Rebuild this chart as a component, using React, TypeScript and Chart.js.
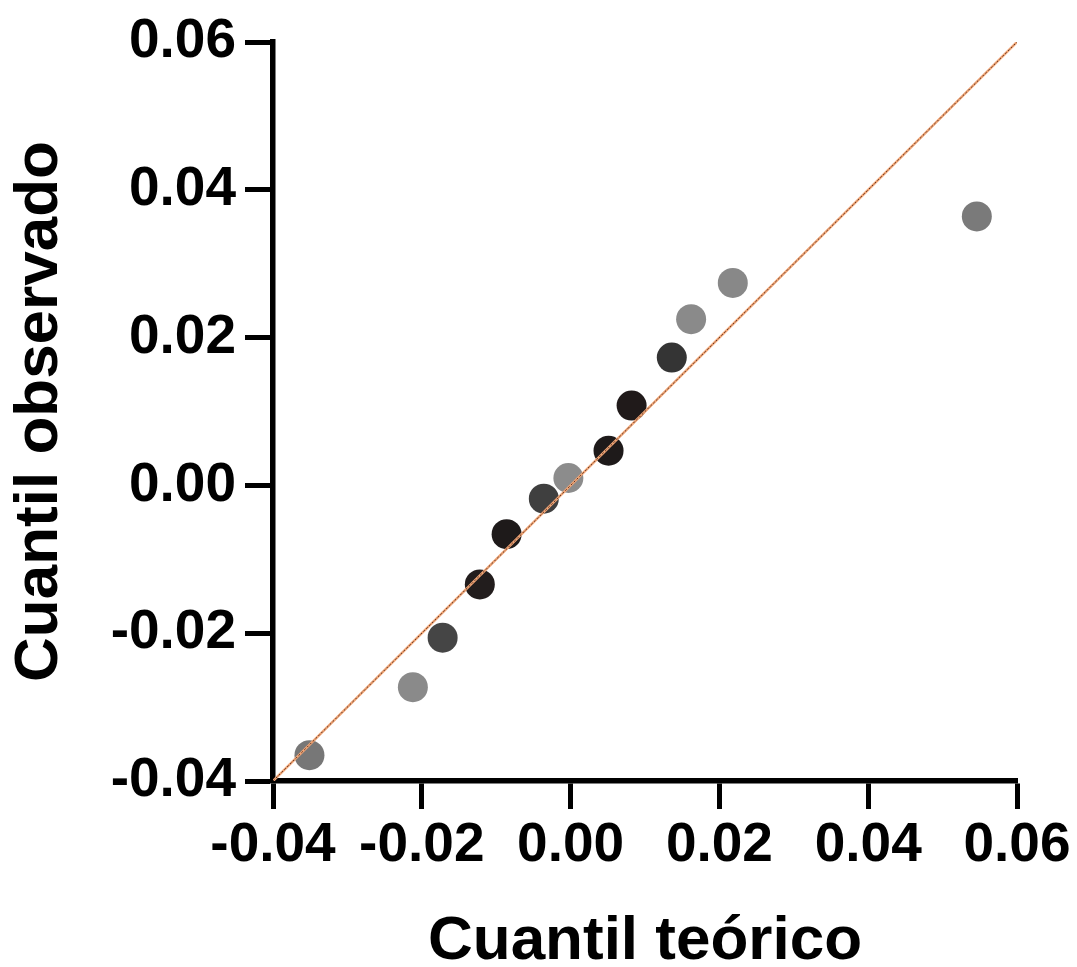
import React, { useEffect, useRef } from "react";
import { Chart, registerables } from "chart.js";

Chart.register(...registerables);

const theoretical = [-0.0351, -0.0212, -0.0172, -0.0122, -0.0086, -0.0036, -0.0003, 0.0051, 0.0082, 0.0136, 0.0162, 0.0218, 0.0546];
const observed = [-0.0365, -0.0273, -0.0206, -0.0134, -0.0066, -0.0018, 0.001, 0.0047, 0.0108, 0.0173, 0.0225, 0.0274, 0.0364];
const pointColors = ["#777777", "#8a8a8a", "#454545", "#221d1d", "#1e1a1a", "#3f3f3f", "#8c8c8c", "#1e1a1a", "#201a1a", "#343434", "#8a8a8a", "#888888", "#7a7a7a"];
const refLineX = [-0.04, 0.06];
const refLineY = [-0.04, 0.06];
const axisMin = -0.04;
const axisMax = 0.06;
const axisStep = 0.02;
const xTitle = "Cuantil teórico";
const yTitle = "Cuantil observado";

const FONT = "'Liberation Sans', Arial, Helvetica, sans-serif";

export default function App() {
  const ref = useRef<HTMLCanvasElement | null>(null);

  useEffect(() => {
    if (!ref.current) return;
    const linePts = refLineX.map((x, i) => ({ x, y: refLineY[i] }));
    const chart = new Chart(ref.current, {
      type: "scatter",
      data: {
        datasets: [
          {
            type: "line",
            data: linePts,
            borderColor: "#f0a474",
            borderWidth: 2.5,
            pointRadius: 0,
            fill: false,
            order: 1,
          },
          {
            type: "line",
            data: linePts,
            borderColor: "#5a3528",
            borderWidth: 1,
            borderDash: [2, 2],
            pointRadius: 0,
            fill: false,
            order: 0,
          },
          {
            data: theoretical.map((x, i) => ({ x, y: observed[i] })),
            backgroundColor: pointColors,
            borderWidth: 0,
            pointRadius: 15,
            pointHoverRadius: 15,
            order: 2,
          },
        ],
      },
      options: {
        responsive: false,
        animation: false,
        devicePixelRatio: 1,
        layout: { padding: { left: 0, top: 38, right: 60, bottom: 0 } },
        plugins: { legend: { display: false }, tooltip: { enabled: false } },
        scales: {
          x: {
            type: "linear",
            min: axisMin,
            max: axisMax,
            afterFit: (s: any) => {
              s.height = 186;
            },
            ticks: {
              stepSize: axisStep,
              color: "#000",
              padding: 4,
              maxRotation: 0,
              font: { family: FONT, size: 55, weight: "bold" },
              callback: (v: any) => Number(v).toFixed(2),
            },
            grid: { display: true, drawOnChartArea: false, drawTicks: true, tickLength: 28, tickWidth: 5, tickColor: "#000" },
            border: { display: true, color: "#000", width: 5.5 },
            title: {
              display: true,
              text: xTitle,
              color: "#000",
              font: { family: FONT, size: 62, weight: "bold", lineHeight: 0.8 },
              padding: 0,
            },
          },
          y: {
            type: "linear",
            min: axisMin,
            max: axisMax,
            afterFit: (s: any) => {
              s.width = 273;
            },
            ticks: {
              stepSize: axisStep,
              color: "#000",
              padding: 9,
              font: { family: FONT, size: 55, weight: "bold" },
              callback: (v: any) => Number(v).toFixed(2),
            },
            grid: { display: true, drawOnChartArea: false, drawTicks: true, tickLength: 28, tickWidth: 5, tickColor: "#000" },
            border: { display: true, color: "#000", width: 5.5 },
            title: {
              display: true,
              text: yTitle,
              color: "#000",
              font: { family: FONT, size: 62, weight: "bold", lineHeight: 0.8 },
              padding: { top: 15, bottom: 0 },
            },
          },
        },
      },
    });
    return () => chart.destroy();
  }, []);

  return (
    <div style={{ position: "absolute", left: 0, top: 0, width: 1077, height: 967, background: "#fff" }}>
      <canvas ref={ref} width={1077} height={967} style={{ width: 1077, height: 967 }} />
    </div>
  );
}
